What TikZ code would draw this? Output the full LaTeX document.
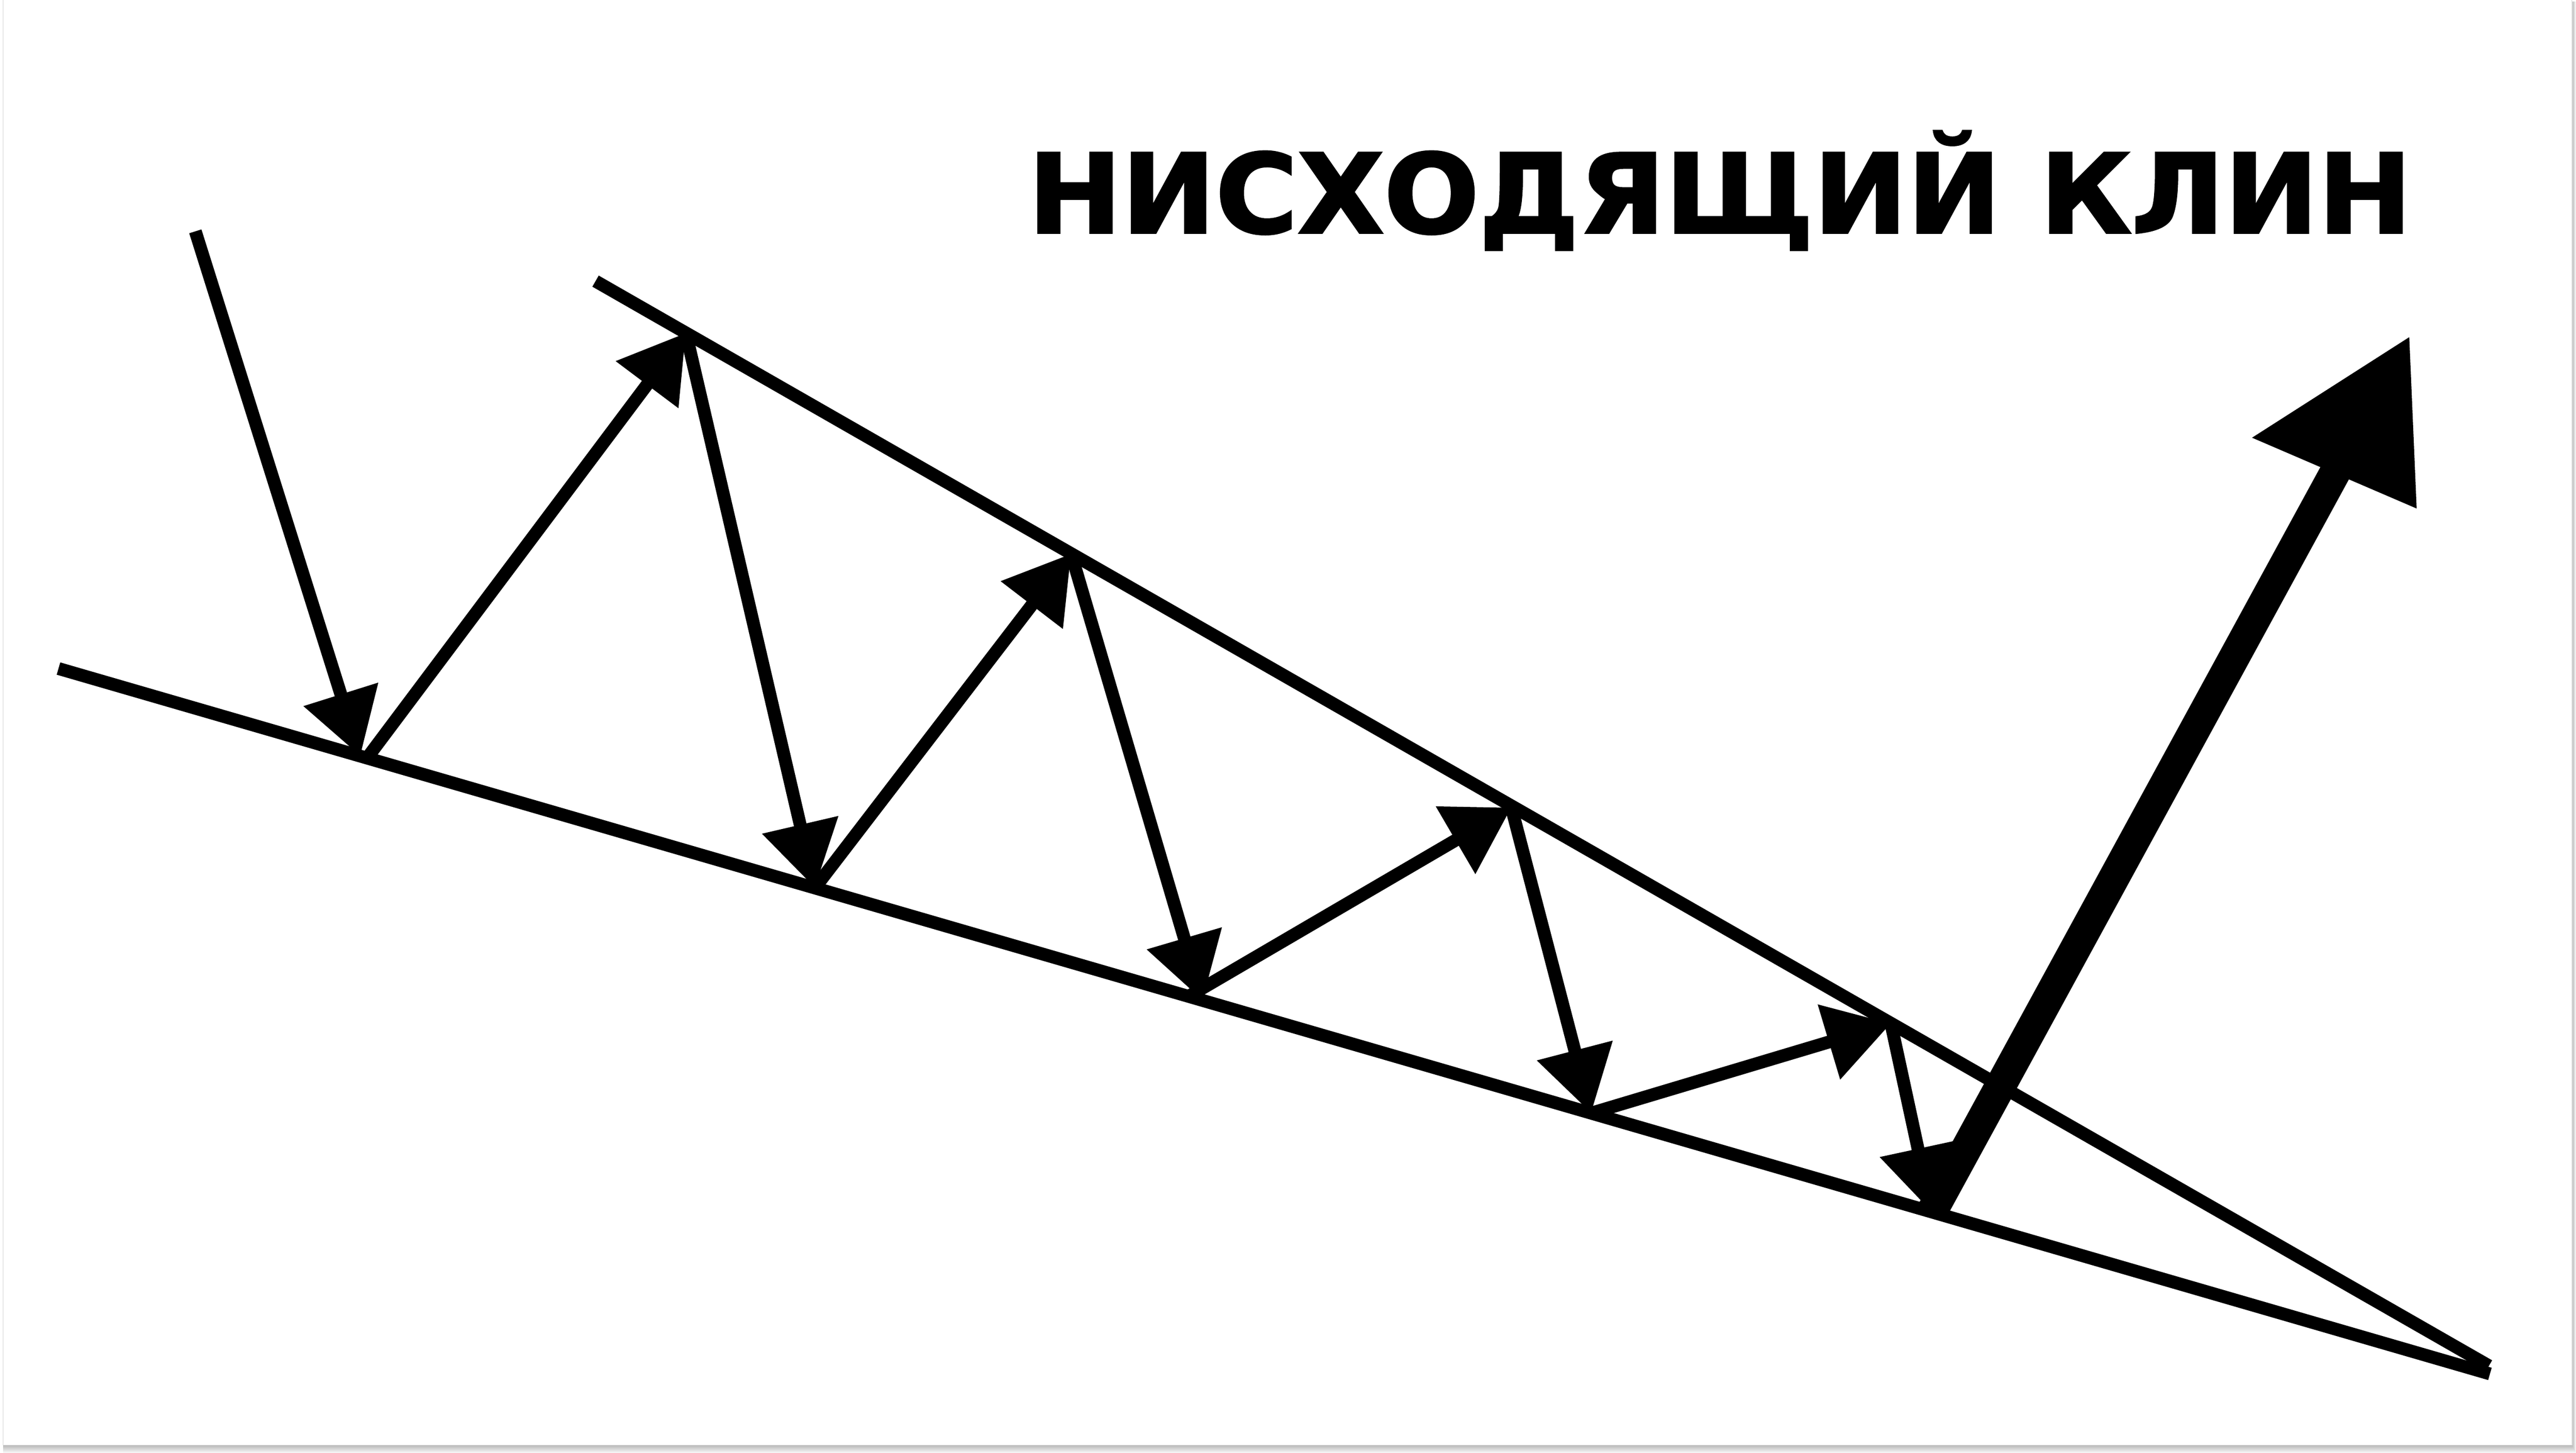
\documentclass[tikz,border=0pt]{standalone}
\usepackage{fontspec}
\usetikzlibrary{arrows.meta}
\newfontfamily\titlefont[FakeBold=2]{DejaVu Sans}
\begin{document}
\begin{tikzpicture}[x=0.025cm,y=-0.025cm,
  trend/.style={line width=0.195cm, line cap=butt},
  move/.style={line width=0.195cm, line cap=butt, -{Triangle[length=0.985cm,width=1.14cm]}},
  shaft/.style={line width=0.47cm, line cap=butt},
  bighead/.style={fill=black},
  titletext/.style={anchor=base west, inner sep=0pt, font=\titlefont\bfseries\fontsize{47.5pt}{50pt}\selectfont}]
\useasboundingbox (0,0) rectangle (1568,884.13);
% card with soft shadow
\foreach \k in {1,...,8}
  \fill[black,opacity=0.04] (2,1) rectangle ({1565.6+0.3*\k},{879.5+0.6*\k});
\fill[white] (2,0) rectangle (1565.6,879.5);
\draw[black!9, line width=0.4pt] (2,-1) -- (2,879.5) -- (1565.6,879.5) -- (1565.6,-1);
% title
\node[titletext] (title) at (625.5,141.7) {\resizebox{21.05cm}{\height}{НИСХОДЯЩИЙ КЛИН}};
% points
\coordinate (L1) at (35.6,406.9);
\coordinate (L2) at (1515.6,836.2);
\coordinate (U1) at (362.5,171.1);
\coordinate (U2) at (1515,831.3);
\coordinate (S0) at (118.9,140.8);
\coordinate (E)  at (219.3,460.2);
\coordinate (P1) at (223.4,461.4);
\coordinate (P2) at (417.5,202.6);
\coordinate (P3) at (496,540.4);
\coordinate (P4) at (652,337);
\coordinate (P5) at (732,608.9);
\coordinate (Q5) at (723.5,606.4);
\coordinate (P6) at (920,491.5);
\coordinate (P7) at (968.5,677.5);
\coordinate (P8) at (1151,622.9);
\coordinate (P9) at (1175.8,737.7);
\coordinate (BM) at (1423,284.5);
\coordinate (T)  at (1466.5,205.2);
\coordinate (C1) at (1370.8,266.4);
\coordinate (C2) at (1471,309.5);
% wedge lines
\draw[trend] (L1) -- (L2);
\draw[trend] (U1) -- (U2);
% price moves
\draw[move] (S0) -- (E);
\draw[move] (P1) -- (P2);
\draw[move] (P2) -- (P3);
\draw[move] (P3) -- (P4);
\draw[move] (P4) -- (P5);
\draw[move] (Q5) -- (P6);
\draw[move] (P6) -- (P7);
\draw[move] (P7) -- (P8);
\draw[move] (P8) -- (P9);
% breakout
\draw[shaft] (P9) -- (BM);
\fill[bighead] (T) -- (C1) -- (C2) -- cycle;
\end{tikzpicture}
\end{document}
